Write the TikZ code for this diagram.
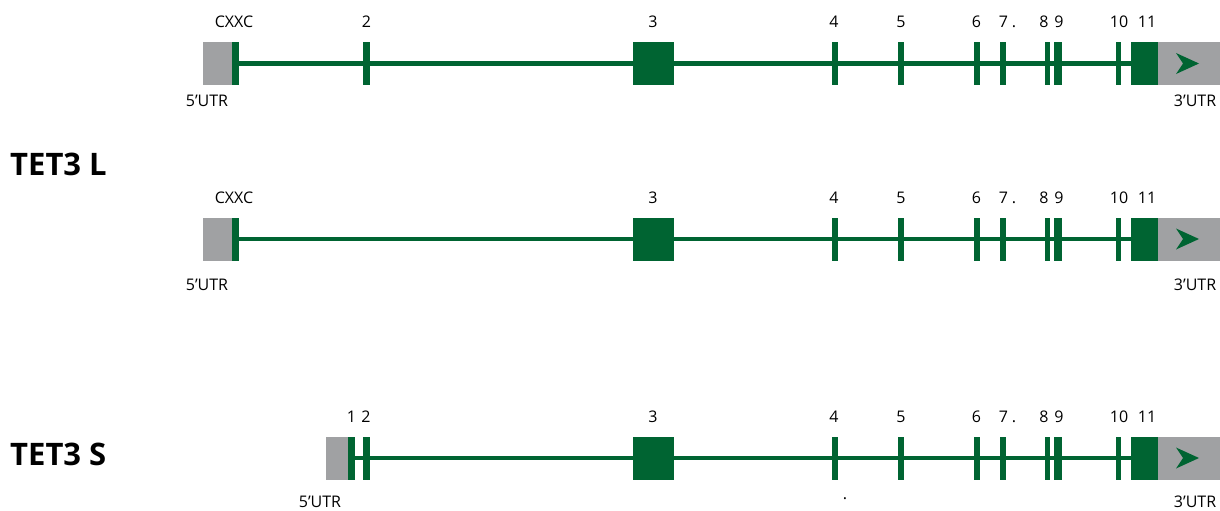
\documentclass[tikz,border=0pt]{standalone}
\usepackage{fontspec}
\setmainfont{Open Sans}
\definecolor{exgreen}{RGB}{0,100,50}
\definecolor{utrgray}{RGB}{160,161,163}
\tikzset{
  exon/.style={fill=exgreen, draw=none},
  utr/.style={fill=utrgray, draw=none},
  intron/.style={draw=exgreen, line width=4.5pt},
  lbl/.style={anchor=base, inner sep=0pt, font=\fontsize{16}{18}\selectfont},
  title/.style={anchor=base west, inner sep=0pt, font=\fontsize{31}{36}\selectfont\bfseries},
}
% #1 = name suffix, #2 = baseline of the 3'UTR label (row-relative)
\newcommand\generight[2]{%
  \fill[exon] (633,42) rectangle (674,85);
  \fill[exon] (832,42) rectangle (838,85);
  \fill[exon] (898,42) rectangle (904,85);
  \fill[exon] (973.5,42) rectangle (980,85);
  \fill[exon] (1000,42) rectangle (1005.5,85);
  \fill[exon] (1045,42) rectangle (1049.5,85);
  \fill[exon] (1054,42) rectangle (1062,85);
  \fill[exon] (1115.5,42) rectangle (1120.5,85);
  \fill[exon] (1131,42) rectangle (1157.5,85);
  \fill[utr] (1157.5,42) rectangle (1220,85);
  \fill[exgreen] (1176,53) -- (1199,63.5) -- (1176,74) -- (1183,63.5) -- cycle;
  \node[lbl] (e3#1) at (653,28) {3};
  \node[lbl] (e4#1) at (834,28) {4};
  \node[lbl] (e5#1) at (901,28) {5};
  \node[lbl] (e6#1) at (976.5,28) {6};
  \node[lbl] (e7#1) at (1003.5,28) {7};
  \node[lbl] (dot#1) at (1014,28) {.};
  \node[lbl] (e8#1) at (1044,28) {8};
  \node[lbl] (e9#1) at (1059,28) {9};
  \node[lbl] (e10#1) at (1119,28) {10};
  \node[lbl] (e11#1) at (1147,28) {11};
  \node[lbl] (utrr#1) at (1195,#2) {3’UTR};
}
\begin{document}
\begin{tikzpicture}[x=1pt,y=-1pt]
\useasboundingbox (0,0) rectangle (1220,511);
\fill[white] (0,0) rectangle (1220,511);

% Row 1
\begin{scope}
  \draw[intron] (238,63.5) -- (1131,63.5);
  \fill[utr] (203,42) rectangle (232,85);
  \fill[exon] (232,42) rectangle (238.5,85);
  \fill[exon] (363,42) rectangle (370,85);
  \node[lbl] (cxxcA) at (234,28) {CXXC};
  \node[lbl] (e2A) at (366.5,28) {2};
  \node[lbl] (utrlA) at (207,106) {5’UTR};
  \generight{A}{106}
\end{scope}

\node[title] (tetL) at (10,175) {TET3 L};

% Row 2
\begin{scope}[shift={(0,175.5)}]
  \draw[intron] (238,63.5) -- (1131,63.5);
  \fill[utr] (203,42) rectangle (232,85);
  \fill[exon] (232,42) rectangle (238.5,85);
  \node[lbl] (cxxcB) at (234,28) {CXXC};
  \node[lbl] (utrlB) at (207,114.5) {5’UTR};
  \generight{B}{114.5}
\end{scope}

% Row 3
\begin{scope}[shift={(0,394.5)}]
  \draw[intron] (355,63.5) -- (1131,63.5);
  \fill[utr] (326,42) rectangle (348,85);
  \fill[exon] (348,42) rectangle (355,85);
  \fill[exon] (363,42) rectangle (369.5,85);
  \node[lbl] (e1C) at (351.5,28) {1};
  \node[lbl] (e2C) at (366,28) {2};
  \node[lbl] (utrlC) at (320,113) {5’UTR};
  \node[lbl] (stray) at (845,105) {.};
  \generight{C}{113}
\end{scope}

\node[title] (tetS) at (10,465) {TET3 S};
\end{tikzpicture}
\end{document}
